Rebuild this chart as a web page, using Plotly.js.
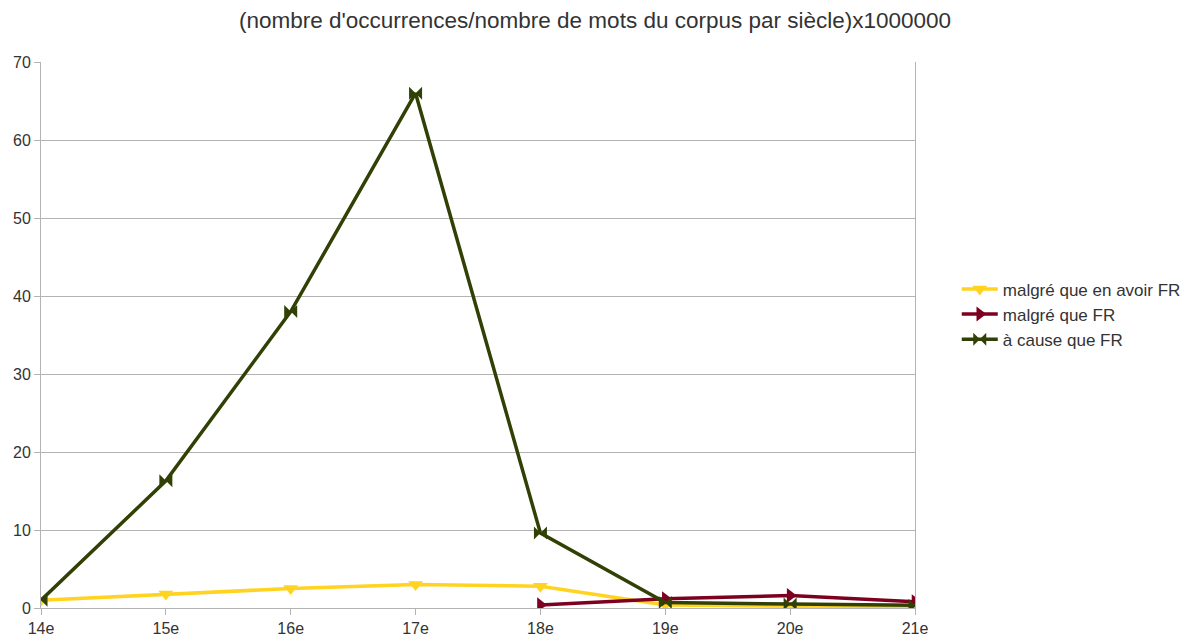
<!DOCTYPE html>
<html><head><meta charset="utf-8">
<script src="https://cdn.plot.ly/plotly-3.0.1.min.js"></script>
<style>body{margin:0;background:#fff}#c{width:1190px;height:639px}</style>
</head><body><div id="c"></div>
<script>
const categories = ["14e","15e","16e","17e","18e","19e","20e","21e"];
const malgreEnAvoir = [1.0, 1.8, 2.5, 3.0, 2.8, 0.4, 0.25, 0.05];
const malgreQue = [null, null, null, null, 0.4, 1.2, 1.6, 0.8];
const aCauseQue = [1.0, 16.3, 38, 66, 9.6, 0.7, 0.5, 0.35];
const seriesNames = ["malgré que en avoir FR", "malgré que FR", "à cause que FR"];
const titleText = "(nombre d'occurrences/nombre de mots du corpus par siècle)x1000000";

const font = "Liberation Sans, Arial, sans-serif";
const traces = [
  {x: categories, y: malgreEnAvoir, name: seriesNames[0], mode: "lines+markers",
   line: {color: "#ffd320", width: 3.5}, marker: {symbol: "triangle-down", size: 13, color: "#ffd320"}},
  {x: categories, y: malgreQue, name: seriesNames[1], mode: "lines+markers",
   line: {color: "#7e0021", width: 3.5}, marker: {symbol: "triangle-right", size: 13, color: "#7e0021"}},
  {x: categories, y: aCauseQue, name: seriesNames[2], mode: "lines+markers",
   line: {color: "#314004", width: 3.5}, marker: {symbol: "bowtie", size: 13, color: "#314004"}}
];
const layout = {
  width: 1190, height: 639,
  margin: {l: 41, r: 275, t: 62, b: 31},
  paper_bgcolor: "#fff", plot_bgcolor: "#fff",
  font: {family: font, size: 15, color: "#333"},
  title: {text: titleText, font: {family: font, size: 22.5, color: "#333"}, x: 0.5, xanchor: "center", y: 0.968, yanchor: "middle"},
  showlegend: true,
  legend: {xref: "container", yref: "container", x: 0.804, xanchor: "left", y: 0.508, yanchor: "middle", font: {family: font, size: 17, color: "#333"}, itemwidth: 36, tracegroupgap: 0, borderwidth: 0, bgcolor: "rgba(0,0,0,0)"},
  xaxis: {type: "category", range: [0, 7], showgrid: false, zeroline: false,
    showline: true, linecolor: "#b3b3b3", linewidth: 1, mirror: false,
    ticks: "outside", ticklen: 6, tickcolor: "#b3b3b3", tickfont: {size: 16, color: "#333"}},
  yaxis: {range: [0, 70], dtick: 10, showgrid: true, gridcolor: "#b3b3b3", zeroline: false,
    showline: true, linecolor: "#b3b3b3", linewidth: 1, mirror: true,
    ticks: "outside", ticklen: 6, tickcolor: "#b3b3b3", tickfont: {size: 16, color: "#333"}}
};
Plotly.newPlot("c", traces, layout, {displayModeBar: false});
</script></body></html>
